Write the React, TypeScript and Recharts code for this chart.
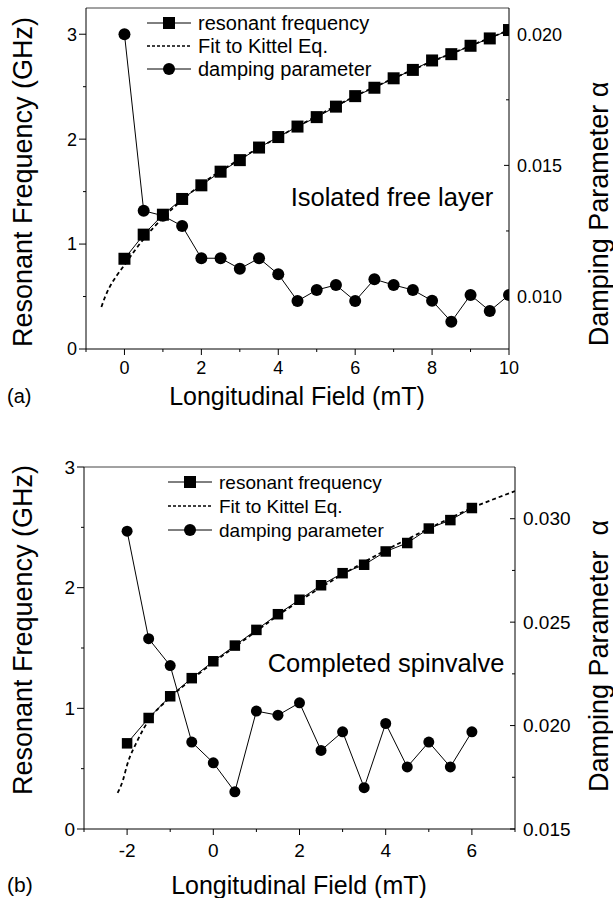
import React from 'react';
import { ComposedChart, Line, XAxis, YAxis, Legend, ReferenceLine, Label } from 'recharts';

const FONT = '"Liberation Sans", Arial, Helvetica, sans-serif';

// ---- panel (a): isolated free layer ----
const fieldA = [0, 0.5, 1, 1.5, 2, 2.5, 3, 3.5, 4, 4.5, 5, 5.5, 6, 6.5, 7, 7.5, 8, 8.5, 9, 9.5, 10];
const freqA = [0.86, 1.09, 1.28, 1.43, 1.56, 1.69, 1.8, 1.92, 2.02, 2.12, 2.21, 2.31, 2.41, 2.49, 2.58, 2.66, 2.75, 2.81, 2.89, 2.96, 3.04];
const dampA = [0.02, 0.01327, 0.01308, 0.01269, 0.01146, 0.01146, 0.01106, 0.01146, 0.01085, 0.00983, 0.01025, 0.01044, 0.00983, 0.01066, 0.01044, 0.01025, 0.00984, 0.00904, 0.01006, 0.00945, 0.01006];
const fitFieldA = [-0.6, -0.5, -0.4, -0.2, 0, 0.25, 0.5, 1, 1.5, 2, 3, 4, 5, 6, 7, 8, 9, 10];
const fitFreqA = [0.4, 0.5, 0.58, 0.7, 0.8, 0.93, 1.05, 1.25, 1.42, 1.57, 1.81, 2.02, 2.22, 2.41, 2.58, 2.74, 2.89, 3.04];
const xTicksA = [-1, 0, 1, 2, 3, 4, 5, 6, 7, 8, 9, 10];
const xLabelsA = [0, 2, 4, 6, 8, 10];
const leftTicksA = [0, 0.5, 1, 1.5, 2, 2.5, 3];
const rightTicksA = [0.01, 0.0125, 0.015, 0.0175, 0.02];
const rightLabelsA = [0.01, 0.015, 0.02];

// ---- panel (b): completed spinvalve ----
const fieldB = [-2, -1.5, -1, -0.5, 0, 0.5, 1, 1.5, 2, 2.5, 3, 3.5, 4, 4.5, 5, 5.5, 6];
const freqB = [0.71, 0.92, 1.1, 1.25, 1.39, 1.52, 1.65, 1.78, 1.9, 2.02, 2.12, 2.19, 2.3, 2.37, 2.49, 2.56, 2.66];
const dampB = [0.0294, 0.0242, 0.0229, 0.0192, 0.0182, 0.0168, 0.0207, 0.0205, 0.0211, 0.0188, 0.0197, 0.017, 0.0201, 0.018, 0.0192, 0.018, 0.0197];
const fitFieldB = [-2.22, -2.1, -2, -1.75, -1.5, -1, -0.5, 0, 0.5, 1, 1.5, 2, 3, 4, 5, 6, 7];
const fitFreqB = [0.3, 0.4, 0.53, 0.74, 0.9, 1.09, 1.24, 1.38, 1.51, 1.64, 1.77, 1.89, 2.11, 2.31, 2.49, 2.66, 2.8];
const xTicksB = [-3, -2, -1, 0, 1, 2, 3, 4, 5, 6, 7];
const xLabelsB = [-2, 0, 2, 4, 6];
const leftTicksB = [0, 0.5, 1, 1.5, 2, 2.5, 3];
const rightTicksB = [0.015, 0.0175, 0.02, 0.0225, 0.025, 0.0275, 0.03];
const rightLabelsB = [0.015, 0.02, 0.025, 0.03];

const SERIES = ['resonant frequency', 'Fit to Kittel Eq.', 'damping parameter'];

const pts = (xs: number[], ys: number[]) => xs.map((x, i) => ({ x, y: ys[i] }));

const XTick = (props: any) => {
  const { x, y, payload, labels, gap, fs } = props;
  const major = labels.includes(payload.value);
  return (
    <g>
      <line x1={x} x2={x} y1={y} y2={y + (major ? 6 : 3)} stroke="#000" />
      {major && (
        <text x={x} y={y + gap} dy="0.71em" textAnchor="middle" fontSize={fs} fontFamily={FONT} fill="#000">
          {payload.value}
        </text>
      )}
    </g>
  );
};

const LeftTick = (props: any) => {
  const { x, y, payload, fs } = props;
  const major = Number.isInteger(payload.value);
  return (
    <g>
      <line x1={x} x2={x - (major ? 7 : 3)} y1={y} y2={y} stroke="#000" />
      {major && (
        <text x={x - 9} y={y} dy="0.355em" textAnchor="end" fontSize={fs} fontFamily={FONT} fill="#000">
          {payload.value}
        </text>
      )}
    </g>
  );
};

const RightTick = (props: any) => {
  const { x, y, payload, labels, fs } = props;
  const major = labels.some((v: number) => Math.abs(v - payload.value) < 1e-9);
  return (
    <g>
      <line x1={x} x2={x - (major ? 5 : 3)} y1={y} y2={y} stroke="#000" />
      {major && (
        <text x={x + 8} y={y} dy="0.355em" textAnchor="start" fontSize={fs} fontFamily={FONT} fill="#000">
          {payload.value.toFixed(3)}
        </text>
      )}
    </g>
  );
};

const renderLegend = (row: number, fs: number) => (props: any) => {
  const items = [...props.payload].sort((a: any, b: any) => SERIES.indexOf(a.value) - SERIES.indexOf(b.value));
  return (
    <div style={{ fontFamily: FONT, fontSize: fs, color: '#000' }}>
      {items.map((entry: any) => {
        const i = SERIES.indexOf(entry.value);
        return (
          <div key={entry.value} style={{ display: 'flex', alignItems: 'center', height: row }}>
            <svg width={46} height={14} style={{ display: 'block' }}>
              <line x1={1} x2={45} y1={7} y2={7} stroke="#000"
                strokeWidth={i === 1 ? 1.6 : 1}
                strokeDasharray={i === 1 ? '3 2' : undefined} />
              {i === 0 && <rect x={17} y={1} width={12} height={12} fill="#000" />}
              {i === 2 && <circle cx={23} cy={7} r={6} fill="#000" />}
            </svg>
            <span style={{ marginLeft: 6, lineHeight: 1 }}>{entry.value}</span>
          </div>
        );
      })}
    </div>
  );
};

type PanelProps = {
  height: number;
  top: number;
  marginTop: number;
  leftW: number;
  rightW: number;
  xAxisH: number;
  xDomain: number[];
  xTicks: number[];
  xLabels: number[];
  xGap: number;
  tickFs: number;
  leftDomain: number[];
  leftTicks: number[];
  rightDomain: number[];
  rightTicks: number[];
  rightLabels: number[];
  freq: { x: number; y: number }[];
  fit: { x: number; y: number }[];
  damp: { x: number; y: number }[];
  sq: number;
  r: number;
  legendPos: { left: number; top: number; row: number; fs: number };
  note: { text: string; x: number; y: number };
  letter: string;
  letterSize: number;
  xTitle: { x: number; dy: number };
  leftTitle: { x: number; y: number };
  rightTitle: { x: number; y: number; text: string; size: number };
};

const Panel = (p: PanelProps) => {
  const square = (d: any) => (
    <rect key={`sq-${d.index}`} x={d.cx - p.sq / 2} y={d.cy - p.sq / 2} width={p.sq} height={p.sq} fill="#000" />
  );
  return (
    <div style={{ position: 'absolute', left: 0, top: p.top, width: 613, height: p.height }}>
      <ComposedChart width={613} height={p.height} margin={{ top: p.marginTop, right: 0, bottom: 0, left: 0 }}>
        <XAxis
          type="number"
          dataKey="x"
          domain={p.xDomain}
          ticks={p.xTicks}
          allowDataOverflow
          height={p.xAxisH}
          tickSize={0}
          tickMargin={0}
          tickLine={false}
          axisLine={{ stroke: '#000' }}
          interval={0}
          tick={(t: any) => <XTick {...t} labels={p.xLabels} gap={p.xGap} fs={p.tickFs} />}
        >
          <Label
            content={(lp: any) => (
              <g>
                <text x={p.xTitle.x} y={lp.viewBox.y + p.xTitle.dy} dy="0.35em" textAnchor="middle" fontSize={25} fontFamily={FONT} fill="#000">
                  Longitudinal Field (mT)
                </text>
                <text x={7} y={lp.viewBox.y + p.xTitle.dy} dy="0.35em" textAnchor="start" fontSize={p.letterSize} fontFamily={FONT} fill="#000">
                  {p.letter}
                </text>
              </g>
            )}
          />
        </XAxis>
        <YAxis
          yAxisId="left"
          orientation="left"
          type="number"
          domain={p.leftDomain}
          ticks={p.leftTicks}
          allowDataOverflow
          width={p.leftW}
          tickSize={0}
          tickMargin={0}
          tickLine={false}
          axisLine={{ stroke: '#000' }}
          interval={0}
          tick={(t: any) => <LeftTick {...t} fs={p.tickFs} />}
        >
          <Label
            content={() => (
              <text x={p.leftTitle.x} y={p.leftTitle.y} dy="0.35em" textAnchor="middle" fontSize={27} fontFamily={FONT} fill="#000"
                transform={`rotate(-90, ${p.leftTitle.x}, ${p.leftTitle.y})`}>
                Resonant Frequency (GHz)
              </text>
            )}
          />
        </YAxis>
        <YAxis
          yAxisId="right"
          orientation="right"
          type="number"
          domain={p.rightDomain}
          ticks={p.rightTicks}
          allowDataOverflow
          width={p.rightW}
          tickSize={0}
          tickMargin={0}
          tickLine={false}
          axisLine={{ stroke: '#000' }}
          interval={0}
          tick={(t: any) => <RightTick {...t} labels={p.rightLabels} fs={p.tickFs} />}
        >
          <Label
            content={() => (
              <text x={p.rightTitle.x} y={p.rightTitle.y} dy="0.35em" textAnchor="middle" fontSize={p.rightTitle.size} fontFamily={FONT} fill="#000"
                transform={`rotate(-90, ${p.rightTitle.x}, ${p.rightTitle.y})`} style={{ whiteSpace: 'pre' }}>
                {p.rightTitle.text}
              </text>
            )}
          />
        </YAxis>
        <ReferenceLine yAxisId="left" y={p.leftDomain[1]} stroke="#444" strokeWidth={1} />
        <Legend
          layout="vertical"
          verticalAlign="middle"
          align="center"
          wrapperStyle={{ left: p.legendPos.left, top: p.legendPos.top, width: 300 }}
          content={renderLegend(p.legendPos.row, p.legendPos.fs)}
        />
        <Line
          name={SERIES[0]}
          yAxisId="left"
          data={p.freq}
          dataKey="y"
          type="linear"
          stroke="#000"
          strokeWidth={1}
          dot={square}
          activeDot={false}
          isAnimationActive={false}
        />
        <Line
          name={SERIES[1]}
          yAxisId="left"
          data={p.fit}
          dataKey="y"
          type="monotone"
          stroke="#000"
          strokeWidth={1.8}
          strokeDasharray="4 3"
          dot={false}
          activeDot={false}
          isAnimationActive={false}
        />
        <Line
          name={SERIES[2]}
          yAxisId="right"
          data={p.damp}
          dataKey="y"
          type="linear"
          stroke="#000"
          strokeWidth={1}
          dot={{ r: p.r, fill: '#000', stroke: 'none' }}
          activeDot={false}
          isAnimationActive={false}
        />
      </ComposedChart>
      <div
        style={{
          position: 'absolute',
          left: p.note.x,
          top: p.note.y,
          transform: 'translate(-50%, -50%)',
          fontFamily: FONT,
          fontSize: 25.5,
          whiteSpace: 'nowrap',
          color: '#000',
        }}
      >
        {p.note.text}
      </div>
    </div>
  );
};

export default function App() {
  return (
    <div style={{ position: 'absolute', left: 0, top: 0, width: 613, height: 898, background: '#fff' }}>
      <Panel
        height={430}
        top={0}
        marginTop={8}
        leftW={86}
        rightW={104}
        xAxisH={81}
        xDomain={[-1, 10]}
        xTicks={xTicksA}
        xLabels={xLabelsA}
        xGap={12}
        tickFs={18}
        leftDomain={[0, 3.25]}
        leftTicks={leftTicksA}
        rightDomain={[0.008, 0.021]}
        rightTicks={rightTicksA}
        rightLabels={rightLabelsA}
        freq={pts(fieldA, freqA)}
        fit={pts(fitFieldA, fitFreqA)}
        damp={pts(fieldA, dampA)}
        sq={12}
        r={6}
        legendPos={{ left: 146, top: 11, row: 23, fs: 20 }}
        note={{ text: 'Isolated free layer', x: 392, y: 197 }}
        letter="(a)"
        letterSize={20}
        xTitle={{ x: 297, dy: 47 }}
        leftTitle={{ x: 23, y: 182 }}
        rightTitle={{ x: 599, y: 214, text: 'Damping Parameter α', size: 27 }}
      />
      <Panel
        height={468}
        top={430}
        marginTop={37}
        leftW={84}
        rightW={98}
        xAxisH={69}
        xDomain={[-3, 7]}
        xTicks={xTicksB}
        xLabels={xLabelsB}
        xGap={15}
        tickFs={19}
        leftDomain={[0, 3]}
        leftTicks={leftTicksB}
        rightDomain={[0.015, 0.0325]}
        rightTicks={rightTicksB}
        rightLabels={rightLabelsB}
        freq={pts(fieldB, freqB)}
        fit={pts(fitFieldB, fitFreqB)}
        damp={pts(fieldB, dampB)}
        sq={10.5}
        r={5.5}
        legendPos={{ left: 167, top: 40, row: 24, fs: 19 }}
        note={{ text: 'Completed spinvalve', x: 386, y: 233 }}
        letter="(b)"
        letterSize={21}
        xTitle={{ x: 299, dy: 56 }}
        leftTitle={{ x: 23, y: 200 }}
        rightTitle={{ x: 599, y: 226, text: 'Damping Parameter  α', size: 27 }}
      />
    </div>
  );
}
